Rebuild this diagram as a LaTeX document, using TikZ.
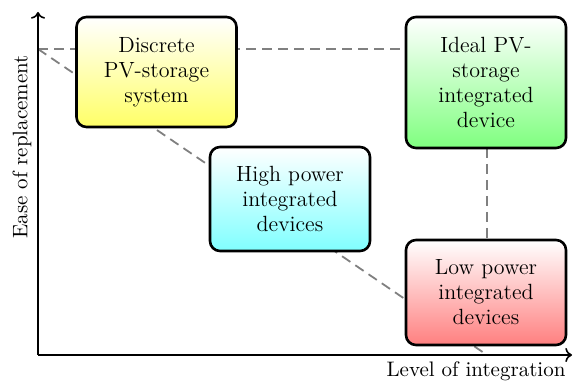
\documentclass[tikz,border=0pt]{standalone}
\usetikzlibrary{arrows.meta}
\begin{document}
\begin{tikzpicture}[x=0.5pt,y=-0.5pt,
  box/.style={draw, line width=1.3pt, rounded corners=5pt, minimum width=80pt, align=center, inner sep=0pt, top color=white, bottom color=#1, font=\fontsize{11}{12.5}\selectfont},
  guide/.style={draw=gray, line width=0.9pt, dash pattern=on 5pt off 3pt},
  axis/.style={draw=black, line width=0.8pt, ->},
  lab/.style={font=\fontsize{10.5}{12.5}\selectfont}]
\useasboundingbox (0,0) rectangle (573,383);
\coordinate (O) at (38,355);
\coordinate (ytop) at (38,12);
\coordinate (xend) at (572,355);
\coordinate (A) at (38,49);
\coordinate (B) at (487,355);
\path[guide] (A) -- (407,49);
\path[guide] (A) -- (B);
\path[guide] (487,148) -- (487,240);
\node[box=yellow!60, minimum height=55pt] (disc) at (156.5,72) {Discrete\\PV-storage\\system};
\node[box=green!50, minimum height=65.5pt] (ideal) at (486,82.5) {Ideal PV-\\storage\\integrated\\device};
\node[box=cyan!50, minimum height=52pt] (high) at (290,199) {High power\\integrated\\devices};
\node[box=red!50, minimum height=52.5pt] (low) at (486,292.5) {Low power\\integrated\\devices};
\path[axis] (O) -- (ytop);
\path[axis] (O) -- (xend);
\node[lab, rotate=90] (ylab) at (22,147) {Ease of replacement};
\node[lab] (xlab) at (476,371) {Level of integration};
\end{tikzpicture}
\end{document}
